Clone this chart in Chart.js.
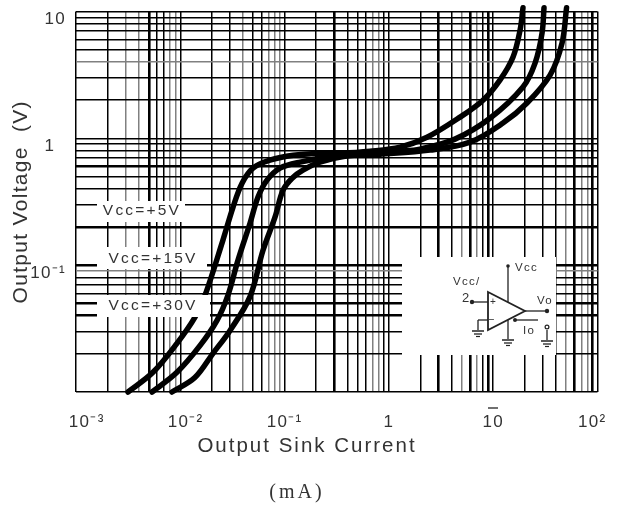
<!DOCTYPE html>
<html><head><meta charset="utf-8">
<style>html,body{margin:0;padding:0;background:#fff}canvas{display:block;filter:blur(.55px)}</style>
<script src="https://cdn.jsdelivr.net/npm/chart.js@4/dist/chart.umd.js"></script>
</head><body><canvas id="c" width="620" height="509"></canvas>
<script>
const xTickValues=[.001,.002,.003,.004,.005,.006,.007,.008,.009,.01,.02,.03,.04,.05,.06,.07,.08,.09,.1,.2,.3,.4,.5,.6,.7,.8,.9,1,2,3,4,5,6,7,8,9,10,20,30,40,50,60,70,80,90,100];
const yTickValues=[.01,.02,.03,.04,.05,.06,.07,.08,.09,.1,.2,.3,.4,.5,.6,.7,.8,.9,1,2,3,4,5,6,7,8,9,10];
const xLabels={0.001:'\u2007\u200710⁻³',0.01:'\u200710⁻²',0.1:'10⁻¹',1:'1',10:'10',100:'10²\u2007'};
const yLabels={10:'10',1:'1\u2007',0.1:'10⁻¹'};
const xThick=[.005,.3,3,6,9,60,90];
const xGray=[.003,.004,.008,.009,.04,.07,.08,.09,.7,.8,5,7,50,70,80];
const yThick=[.6,.2,.1,.05,.04];
const yGray=[4,.09];

const current5=[.00315,.00547,.00929,.0138,.01726,.0256,.032,.0391,.0498,.0724,.121,.218,.34,.659,1.28,2.32,4.81,7.98,11.6,15.5,18.1,19.3];
const volt5=[.01,.0143,.0242,.0388,.0578,.157,.286,.443,.582,.673,.736,.764,.764,.792,.853,1.02,1.47,2,2.88,4.38,7.14,10.7];
const current15=[.00536,.00929,.0155,.0225,.0286,.0357,.0466,.0556,.0678,.0904,.141,.34,1.28,1.99,4.3,9.31,19.3,25.2,29.4,30.7];
const volt15=[.01,.0143,.0233,.0367,.0578,.109,.214,.344,.468,.582,.649,.736,.792,.822,.986,1.44,2.54,3.92,6.76,10.7];
const current30=[.00832,.0138,.0206,.03,.0466,.0621,.0809,.0966,.118,.15,.218,.379,.822,2.48,6,12.4,21.1,35.1,45.7,50.5];
const volt30=[.01,.013,.0202,.0306,.0565,.131,.239,.39,.485,.561,.649,.723,.75,.807,.933,1.32,1.9,3.15,5.64,10.7];
const vccLabels=['Vcc=+5V','Vcc=+15V','Vcc=+30V'];

const pts=(xs,ys)=>xs.map((x,i)=>({x,y:ys[i]}));
const has=(a,v)=>a.some(k=>Math.abs(k-v)<v*1e-6);
const curve=(label,xs,ys)=>({label,data:pts(xs,ys),borderColor:'#000',borderWidth:5.5,pointRadius:0,tension:.35,clip:false,borderCapStyle:'round',borderJoinStyle:'round'});
const TXT='#333';

function text(ctx,s,x,y,font,ls,align){ctx.font=font;ctx.letterSpacing=(ls||0)+'px';ctx.textAlign=align||'left';ctx.textBaseline='middle';ctx.fillStyle=TXT;ctx.fillText(s,x,y);}
function seg(ctx,x1,y1,x2,y2,w){ctx.lineWidth=w||1.3;ctx.beginPath();ctx.moveTo(x1,y1);ctx.lineTo(x2,y2);ctx.stroke();}
function dot(ctx,x,y,r){ctx.beginPath();ctx.arc(x,y,r||2.4,0,Math.PI*2);ctx.fill();}
function gnd(ctx,x,y){seg(ctx,x-6,y,x+6,y,1.5);seg(ctx,x-4,y+3,x+4,y+3,1.3);seg(ctx,x-2,y+5.5,x+2,y+5.5,1.2);}

const annot={id:'annot',
 beforeDraw(c){c.ctx.letterSpacing='1.3px';},
 afterDatasetsDraw(c){const x=c.ctx;x.save();x.fillStyle='#fff';
  [[97,201,88,21],[97,247,110,22],[97,295,113,22],[402,257,154,98]].forEach(r=>x.fillRect(...r));
  text(x,vccLabels[0],142,211,'15.5px "Liberation Sans"',2.2,'center');
  text(x,vccLabels[1],153,259,'15.5px "Liberation Sans"',2.2,'center');
  text(x,vccLabels[2],153,306,'15.5px "Liberation Sans"',2.2,'center');
  x.strokeStyle='#222';x.fillStyle='#222';
  seg(x,508,266,508,302);dot(x,508,266,1.8);
  seg(x,472,302,488,302);dot(x,472,302,2.2);
  x.lineWidth=1.8;x.beginPath();x.moveTo(488,292);x.lineTo(525,311);x.lineTo(488,330);x.closePath();x.stroke();
  seg(x,525,311,547,311);dot(x,547,311,2.2);
  seg(x,488,320,478,320);seg(x,478,320,478,330);gnd(x,478,331);
  seg(x,508,320,508,339);gnd(x,508,340);
  seg(x,515,320,538,320);dot(x,515,320,2);
  seg(x,547,330,547,340);gnd(x,547,341);x.beginPath();x.arc(547,327,1.9,0,Math.PI*2);x.stroke();
  const f='11.5px "Liberation Sans"';
  text(x,'Vcc',515,268,f,1.3);text(x,'Vcc/',453,282,f,1.3);text(x,'2',462,298,'13px "Liberation Sans"',0);
  text(x,'+',490,302,'10px "Liberation Sans"',0);text(x,'−',488,320,'11px "Liberation Sans"',0);
  text(x,'Vo',537,301,f,1.2);text(x,'Io',523,331,f,1.2);
  x.restore();},
 afterDraw(c){const x=c.ctx;x.save();
  x.strokeStyle=TXT;seg(x,488,408,498,408,1.4);
  text(x,'Output Sink Current',307,446,'20.5px "Liberation Sans"',2,'center');
  text(x,'(mA)',297,493,'20px "Liberation Serif"',3,'center');
  x.restore();}
};

new Chart(document.getElementById('c'),{type:'line',plugins:[annot],
 data:{datasets:[curve(vccLabels[0],current5,volt5),curve(vccLabels[1],current15,volt15),curve(vccLabels[2],current30,volt30)]},
 options:{responsive:false,animation:false,
  layout:{padding:{left:0,top:11.5,right:22.5,bottom:53}},
  plugins:{legend:{display:false},tooltip:{enabled:false}},
  scales:{
   x:{type:'logarithmic',min:.001,max:100,
    afterBuildTicks:s=>{s.ticks=xTickValues.map(v=>({value:v}));},
    afterFit:s=>{s.height=64;s.paddingLeft=0;s.paddingRight=0;},
    border:{display:false},
    grid:{drawTicks:false,color:c=>has(xGray,c.tick.value)?'#808080':'#000',lineWidth:c=>has(xThick,c.tick.value)?2.6:1.5},
    ticks:{autoSkip:false,maxRotation:0,padding:20,color:TXT,font:{family:'"Liberation Sans"',size:17},
     callback:v=>{for(const k in xLabels)if(Math.abs(+k-v)<v*1e-6)return xLabels[k];return '';}}},
   y:{type:'logarithmic',min:.01,max:10,
    afterBuildTicks:s=>{s.ticks=yTickValues.map(v=>({value:v}));},
    afterFit:s=>{s.width=76;s.paddingTop=0;s.paddingBottom=0;},
    border:{display:false},
    grid:{drawTicks:false,color:c=>has(yGray,c.tick.value)?'#808080':'#000',lineWidth:c=>has(yThick,c.tick.value)?2.6:1.5},
    ticks:{autoSkip:false,padding:10,labelOffset:8,color:TXT,font:{family:'"Liberation Sans"',size:17},
     callback:v=>{for(const k in yLabels)if(Math.abs(+k-v)<v*1e-6)return yLabels[k];return '';}},
    title:{display:true,text:'Output Voltage  (V)',color:TXT,font:{family:'"Liberation Sans"',size:21},padding:{top:9,bottom:0}}}
  }}});
</script></body></html>
